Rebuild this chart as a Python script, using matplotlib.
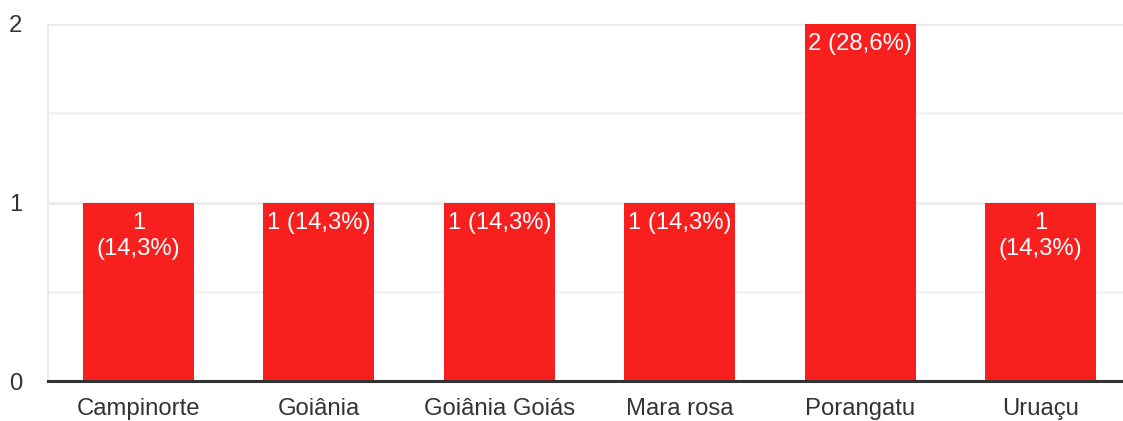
import matplotlib.pyplot as plt
from matplotlib.ticker import MultipleLocator

plt.rcParams['font.family'] = ['Liberation Sans', 'DejaVu Sans']

# dados do grafico
cidades = ['Campinorte', 'Goiânia', 'Goiânia Goiás', 'Mara rosa', 'Porangatu', 'Uruaçu']
respostas = [1, 1, 1, 1, 2, 1]
rotulos = ['1\n(14,3%)', '1 (14,3%)', '1 (14,3%)', '1 (14,3%)', '2 (28,6%)', '1\n(14,3%)']

fig = plt.figure(figsize=(11.23, 4.21), dpi=100)
ax = fig.add_axes([48.3/1123, 40/421, 1082.4/1123, 357/421])

x = list(range(len(cidades)))
barras = ax.bar(x, respostas, width=0.615, color='#f8201f', zorder=3)

for b, txt in zip(barras, rotulos):
    ax.annotate(txt, (b.get_x() + b.get_width()/2, b.get_height()),
                xytext=(0, -6.5), textcoords='offset points',
                ha='center', va='top', color='white', fontsize=17.2,
                linespacing=1.28, zorder=4)

ax.set_xlim(-0.5, 5.5)
ax.set_ylim(0, 2)
ax.set_xticks(x)
ax.set_xticklabels(cidades)
ax.yaxis.set_major_locator(MultipleLocator(1))
ax.yaxis.set_minor_locator(MultipleLocator(0.5))
ax.grid(axis='y', which='major', color='#ebebeb', linewidth=2, zorder=0)
ax.grid(axis='y', which='minor', color='#f3f3f3', linewidth=2, zorder=0)
ax.tick_params(axis='both', which='both', length=0, labelsize=17.2, labelcolor='#333333')
ax.tick_params(axis='x', pad=12.5)
ax.tick_params(axis='y', pad=19)

for s in ['top', 'right']:
    ax.spines[s].set_visible(False)
ax.spines['left'].set_color('#ebebeb')
ax.spines['left'].set_linewidth(1.5)
ax.spines['bottom'].set_color('#333333')
ax.spines['bottom'].set_linewidth(2.2)
ax.spines['bottom'].set_zorder(5)

fig.savefig('out.png', dpi=100)
